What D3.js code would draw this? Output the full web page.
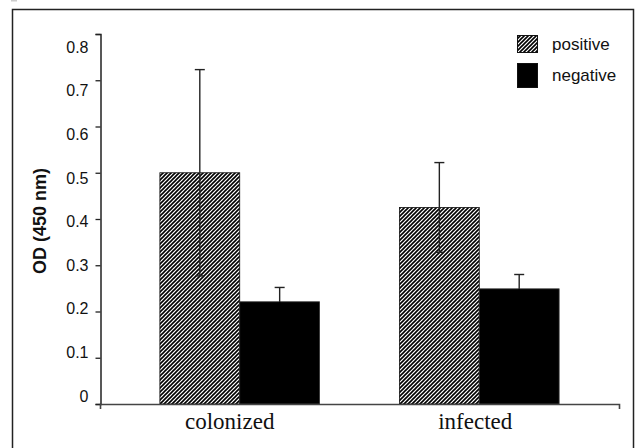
<!DOCTYPE html>
<html>
<head>
<meta charset="utf-8">
<script src="https://cdn.jsdelivr.net/npm/d3@7"></script>
<style>
  body { margin: 0; background: #fff; }
  svg { display: block; }
</style>
</head>
<body>
<div id="chart"></div>
<script>
// data
var categories = ['colonized', 'infected']
var seriesNames = ['positive', 'negative']
var positiveMeans = [0.50, 0.425]
var positiveErrors = [0.223, 0.097]
var negativeMeans = [0.221, 0.249]
var negativeErrors = [0.031, 0.031]
var yTicks = [0, 0.1, 0.2, 0.3, 0.4, 0.5, 0.6, 0.7, 0.8]

var width = 638
var height = 448

var svg = d3.select('#chart').append('svg')
  .attr('width', width)
  .attr('height', height)

// hatch for the positive bars
var defs = svg.append('defs')
defs.append('pattern')
  .attr('id', 'hatch')
  .attr('patternUnits', 'userSpaceOnUse')
  .attr('width', 4)
  .attr('height', 4)
  .call(function (p) {
    p.append('rect').attr('width', 4).attr('height', 4).attr('fill', '#fff')
    p.append('path')
      .attr('d', 'M-1,1 l2,-2 M0,4 l4,-4 M3,5 l2,-2')
      .attr('stroke', '#000')
      .attr('stroke-width', 1.6)
  })

// outer frame (runs past the bottom edge)
svg.append('rect')
  .attr('x', 12.5).attr('y', 9.5)
  .attr('width', 621).attr('height', 460)
  .attr('fill', 'none')
  .attr('stroke', '#222')
  .attr('stroke-width', 1.5)
svg.append('rect')
  .attr('x', 11).attr('y', 0)
  .attr('width', 6).attr('height', 1.5)
  .attr('fill', '#ccc')

var y = d3.scaleLinear().domain([0, 0.8]).range([404, 34])
// the printed labels sit slightly off their ticks in the original
var yLabel = d3.scaleLinear().domain([0, 0.8]).range([396, 47])
var x = d3.scaleBand().domain(categories).range([100, 619])
  .paddingInner(1 / 3).paddingOuter(0.25)
var half = x.bandwidth() / 2

var rows = categories.map(function (c, i) {
  return [
    { cat: c, key: 0, mean: positiveMeans[i], err: positiveErrors[i] },
    { cat: c, key: 1, mean: negativeMeans[i], err: negativeErrors[i] }
  ]
})

var bars = svg.append('g')
rows.forEach(function (pair) {
  pair.forEach(function (d) {
    var x0 = x(d.cat) + d.key * half
    bars.append('rect')
      .attr('x', x0)
      .attr('y', y(d.mean))
      .attr('width', half)
      .attr('height', y(0) - y(d.mean))
      .attr('fill', d.key === 0 ? 'url(#hatch)' : '#000')
      .attr('stroke', d.key === 0 ? '#111' : '#333')
      .attr('stroke-width', 0.8)

    // error bar, lower half is lost inside the black bars
    var cx = x0 + half / 2
    var lowColor = d.key === 0 ? '#222' : '#000'
    var eb = bars.append('g').attr('stroke-width', 1.4)
    eb.append('line')
      .attr('stroke', '#222')
      .attr('x1', cx).attr('x2', cx)
      .attr('y1', y(d.mean + d.err)).attr('y2', y(d.mean))
    eb.append('line')
      .attr('stroke', '#222')
      .attr('x1', cx - 5).attr('x2', cx + 5)
      .attr('y1', y(d.mean + d.err)).attr('y2', y(d.mean + d.err))
    eb.append('line')
      .attr('stroke', lowColor)
      .attr('x1', cx).attr('x2', cx)
      .attr('y1', y(d.mean)).attr('y2', y(d.mean - d.err))
    eb.append('line')
      .attr('stroke', lowColor)
      .attr('x1', cx - 4).attr('x2', cx + 4)
      .attr('y1', y(d.mean - d.err)).attr('y2', y(d.mean - d.err))
  })
})

// y axis
var yAxis = svg.append('g')
  .attr('transform', 'translate(100.5,0)')
  .call(d3.axisLeft(y).tickValues(yTicks).tickSize(5).tickPadding(7)
    .tickFormat(d3.format('')))
yAxis.select('.domain').attr('stroke', '#222').attr('stroke-width', 1.5)
yAxis.selectAll('.tick line').attr('stroke', '#222').attr('stroke-width', 1.3)
yAxis.selectAll('.tick text')
  .attr('font-family', 'Liberation Sans, Arial, sans-serif')
  .attr('font-size', 16)
  .attr('fill', '#111')
  .attr('y', function (d) { return yLabel(d) - y(d) })

// x axis line with end ticks
svg.append('path')
  .attr('d', 'M100.5,409 V404.5 H619.5 V409')
  .attr('fill', 'none')
  .attr('stroke', '#444')
  .attr('stroke-width', 1.6)

svg.append('g').selectAll('text')
  .data(categories)
  .enter().append('text')
  .attr('x', function (d, i) { return x(d) + x.bandwidth() / 2 - (i === 0 ? 10 : 4) })
  .attr('y', 429)
  .attr('text-anchor', 'middle')
  .attr('font-family', 'Liberation Serif, Times New Roman, serif')
  .attr('font-size', 23)
  .attr('fill', '#111')
  .text(function (d) { return d })

// y title
svg.append('text')
  .attr('transform', 'translate(46,221) rotate(-90)')
  .attr('text-anchor', 'middle')
  .attr('font-family', 'Liberation Sans, Arial, sans-serif')
  .attr('font-weight', 'bold')
  .attr('font-size', 18)
  .attr('fill', '#111')
  .text('OD (450 nm)')

// legend
var legend = svg.append('g')
var swatches = [
  { y: 35, h: 17 },
  { y: 63, h: 24 }
]
seriesNames.forEach(function (name, i) {
  legend.append('rect')
    .attr('x', 517.5).attr('y', swatches[i].y + 0.5)
    .attr('width', 20).attr('height', swatches[i].h)
    .attr('fill', i === 0 ? 'url(#hatch)' : '#000')
    .attr('stroke', '#111')
    .attr('stroke-width', 1)
  legend.append('text')
    .attr('x', 552)
    .attr('y', swatches[i].y + swatches[i].h / 2 + 6)
    .attr('font-family', 'Liberation Sans, Arial, sans-serif')
    .attr('font-size', 17)
    .attr('fill', '#111')
    .text(name)
})
</script>
</body>
</html>
